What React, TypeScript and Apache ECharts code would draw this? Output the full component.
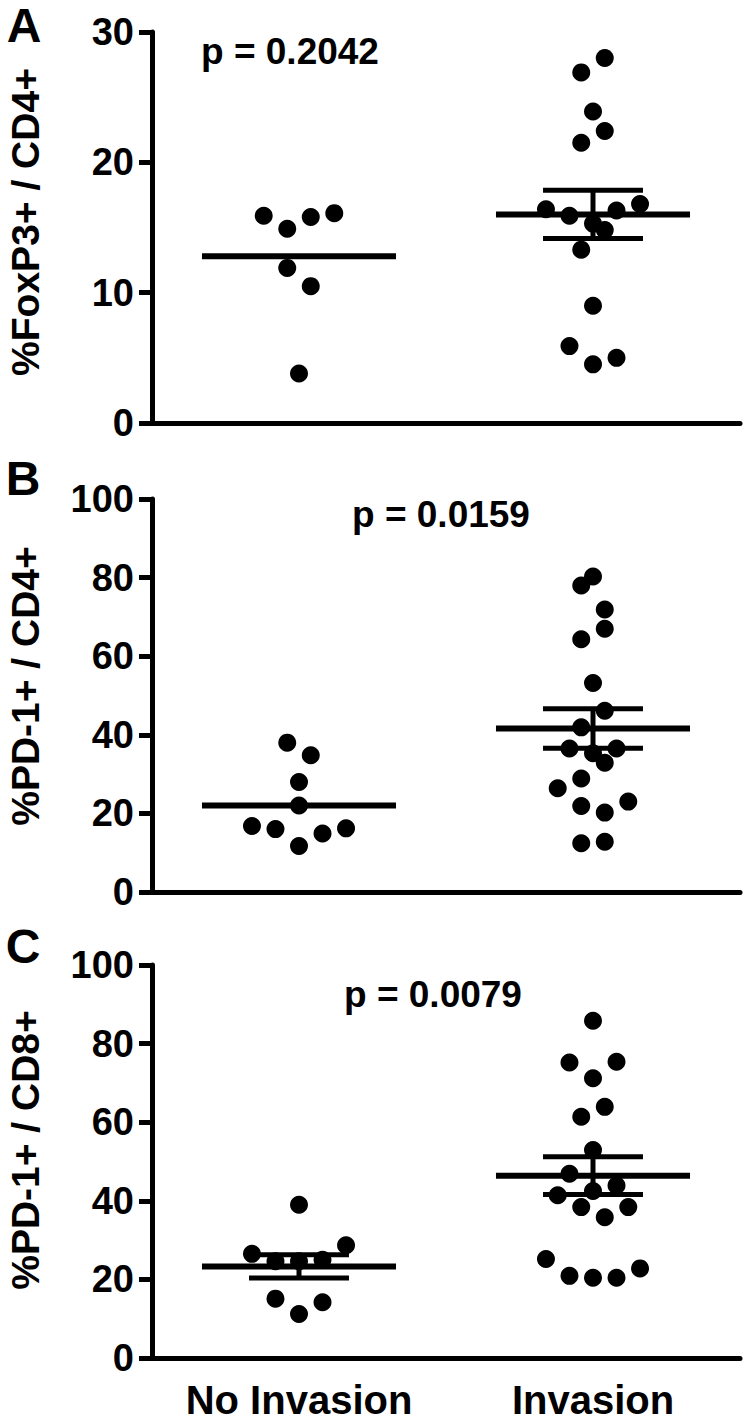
import React, { useEffect, useRef } from 'react';
import * as echarts from 'echarts';

// ---------- data ----------
const categories = ['No Invasion', 'Invasion'];
const panelLetters = ['A', 'B', 'C'];
const yAxisNames = ['%FoxP3+ / CD4+', '%PD-1+ / CD4+', '%PD-1+ / CD8+'];
const pValueLabels = ['p = 0.2042', 'p = 0.0159', 'p = 0.0079'];
const yMaxes = [30, 100, 100];
const yIntervals = [10, 20, 20];

// Panel A: %FoxP3+ / CD4+
const foxp3NoInv = [15.9, 14.9, 15.8, 16.1, 11.9, 10.5, 3.8];
const foxp3NoInvJitter = [-3, -1, 1, 3, -1, 1, 0];
const foxp3Inv = [28.0, 26.9, 23.9, 22.4, 21.5, 16.4, 15.9, 15.3, 14.8, 16.3, 16.8, 13.3, 9.0, 5.9, 5.0, 4.5];
const foxp3InvJitter = [1, -1, 0, 1, -1, -4, -2, 0, 1, 2, 4, -1, 0, -2, 2, 0];
const foxp3Mean = [12.8, 16.0];
const foxp3Sem = [null, 1.85];

// Panel B: %PD-1+ / CD4+
const pd1cd4NoInv = [38.0, 34.8, 28.0, 22.0, 16.8, 16.0, 14.9, 16.2, 11.7];
const pd1cd4NoInvJitter = [-1, 1, 0, 0, -4, -2, 2, 4, 0];
const pd1cd4Inv = [80.3, 78.0, 71.9, 67.0, 64.3, 53.2, 46.1, 41.9, 36.5, 36.5, 35.3, 32.9, 28.9, 26.4, 21.9, 23.0, 20.2, 12.4, 12.8];
const pd1cd4InvJitter = [0, -1, 1, 1, -1, 0, 1, -1, -2, 2, 0, 1, -1, -3, -1, 3, 1, -1, 1];
const pd1cd4Mean = [22.0, 41.6];
const pd1cd4Sem = [null, 5.0];

// Panel C: %PD-1+ / CD8+
const pd1cd8NoInv = [39.0, 26.5, 24.6, 24.6, 25.0, 28.7, 15.1, 14.2, 11.2];
const pd1cd8NoInvJitter = [0, -4, -2, 0, 2, 4, -2, 2, 0];
const pd1cd8Inv = [85.8, 75.2, 75.4, 71.2, 63.9, 61.4, 52.9, 46.9, 43.9, 42.5, 41.4, 38.4, 38.4, 35.8, 25.2, 20.9, 20.4, 20.4, 22.8];
const pd1cd8InvJitter = [0, -2, 2, 0, 1, -1, 0, -2, 2, 0, -3, -1, 3, 1, -4, -2, 0, 2, 4];
const pd1cd8Mean = [23.3, 46.4];
const pd1cd8Sem = [2.95, 4.8];

// ---------- layout / style ----------
const FONT = '"Liberation Sans", Arial, Helvetica, sans-serif';
const GROUP_CENTERS = [1, 3];
const JITTER_STEP = 0.08;
const MEAN_HALF = 0.66;
const CAP_HALF = 0.34;
const GRID_TOPS = [32, 499, 965];
const GRID_HEIGHTS = [391, 393, 393];
const LETTER_POS = [[24, 25], [23, 478], [23, 946]];
const NAME_POS = [[25, 222], [25, 686], [25, 1150]];
const P_POS = [[201, 51], [352, 514], [344, 994]];

const panelData = [
  { noInv: foxp3NoInv, noInvJ: foxp3NoInvJitter, inv: foxp3Inv, invJ: foxp3InvJitter, mean: foxp3Mean, sem: foxp3Sem },
  { noInv: pd1cd4NoInv, noInvJ: pd1cd4NoInvJitter, inv: pd1cd4Inv, invJ: pd1cd4InvJitter, mean: pd1cd4Mean, sem: pd1cd4Sem },
  { noInv: pd1cd8NoInv, noInvJ: pd1cd8NoInvJitter, inv: pd1cd8Inv, invJ: pd1cd8InvJitter, mean: pd1cd8Mean, sem: pd1cd8Sem },
];

function renderMeanSem(params: any, api: any) {
  const c = api.value(0);
  const m = api.value(1);
  const s = api.value(2);
  const children: any[] = [];
  const a = api.coord([c - MEAN_HALF, m]);
  const b = api.coord([c + MEAN_HALF, m]);
  children.push({ type: 'line', shape: { x1: a[0], y1: a[1], x2: b[0], y2: b[1] }, style: { stroke: '#000', lineWidth: 6 } });
  if (s > 0) {
    const t = api.coord([c, m + s]);
    const bo = api.coord([c, m - s]);
    const tl = api.coord([c - CAP_HALF, m + s]);
    const tr = api.coord([c + CAP_HALF, m + s]);
    const bl = api.coord([c - CAP_HALF, m - s]);
    const br = api.coord([c + CAP_HALF, m - s]);
    children.push({ type: 'line', shape: { x1: t[0], y1: t[1], x2: bo[0], y2: bo[1] }, style: { stroke: '#000', lineWidth: 5 } });
    children.push({ type: 'line', shape: { x1: tl[0], y1: tl[1], x2: tr[0], y2: tr[1] }, style: { stroke: '#000', lineWidth: 5 } });
    children.push({ type: 'line', shape: { x1: bl[0], y1: bl[1], x2: br[0], y2: br[1] }, style: { stroke: '#000', lineWidth: 5 } });
  }
  return { type: 'group', children };
}

export default function App() {
  const ref = useRef<HTMLDivElement>(null);
  useEffect(() => {
    if (!ref.current) return;
    const chart = echarts.init(ref.current, null, { renderer: 'svg' });
    const grid = GRID_TOPS.map((top, i) => ({ left: 152, right: 10, top, height: GRID_HEIGHTS[i] }));
    const xAxis = GRID_TOPS.map((_, i) => ({
      type: 'value',
      gridIndex: i,
      min: 0,
      max: 4,
      axisLine: { show: true, onZero: false, lineStyle: { color: '#000', width: 5 } },
      axisTick: { show: false },
      splitLine: { show: false },
      axisLabel: i === 2
        ? {
            show: true,
            customValues: GROUP_CENTERS,
            formatter: (v: number) => (v === GROUP_CENTERS[0] ? categories[0] : v === GROUP_CENTERS[1] ? categories[1] : ''),
            fontSize: 40,
            fontWeight: 'bold',
            fontFamily: FONT,
            color: '#000',
            margin: 22,
          }
        : { show: false },
    }));
    const yAxis = GRID_TOPS.map((_, i) => ({
      type: 'value',
      gridIndex: i,
      min: 0,
      max: yMaxes[i],
      interval: yIntervals[i],
      axisLine: { show: true, lineStyle: { color: '#000', width: 5 } },
      axisTick: { show: true, length: 13, lineStyle: { color: '#000', width: 5 } },
      splitLine: { show: false },
      axisLabel: { fontSize: 38, fontWeight: 'bold', fontFamily: FONT, color: '#000', margin: 18 },
    }));
    const series: any[] = [];
    panelData.forEach((p, i) => {
      series.push({
        type: 'scatter', name: categories[0], xAxisIndex: i, yAxisIndex: i,
        symbol: 'circle', symbolSize: 18, itemStyle: { color: '#000', opacity: 1 },
        data: p.noInv.map((v, k) => [GROUP_CENTERS[0] + p.noInvJ[k] * JITTER_STEP, v]),
      });
      series.push({
        type: 'scatter', name: categories[1], xAxisIndex: i, yAxisIndex: i,
        symbol: 'circle', symbolSize: 18, itemStyle: { color: '#000', opacity: 1 },
        data: p.inv.map((v, k) => [GROUP_CENTERS[1] + p.invJ[k] * JITTER_STEP, v]),
      });
      series.push({
        type: 'custom', xAxisIndex: i, yAxisIndex: i, z: 3, silent: true,
        renderItem: renderMeanSem,
        encode: { x: 0, y: 1 },
        data: p.mean.map((m, k) => [GROUP_CENTERS[k], m, p.sem[k] ?? 0]),
      });
    });
    const graphic: any[] = [];
    panelLetters.forEach((L, i) => {
      graphic.push({ type: 'text', x: LETTER_POS[i][0], y: LETTER_POS[i][1], style: { text: L, font: `bold 48px ${FONT}`, fill: '#000', textAlign: 'center', textVerticalAlign: 'middle' } });
      graphic.push({ type: 'text', x: NAME_POS[i][0], y: NAME_POS[i][1], rotation: Math.PI / 2, style: { text: yAxisNames[i], font: `bold 39px ${FONT}`, fill: '#000', textAlign: 'center', textVerticalAlign: 'middle' } });
      graphic.push({ type: 'text', x: P_POS[i][0], y: P_POS[i][1], style: { text: pValueLabels[i], font: `bold 37px ${FONT}`, fill: '#000', textAlign: 'left', textVerticalAlign: 'middle' } });
    });
    chart.setOption({ animation: false, backgroundColor: '#fff', grid, xAxis, yAxis, series, graphic });
    return () => chart.dispose();
  }, []);
  return <div ref={ref} style={{ position: 'absolute', left: 0, top: 0, width: 750, height: 1421 }} />;
}
